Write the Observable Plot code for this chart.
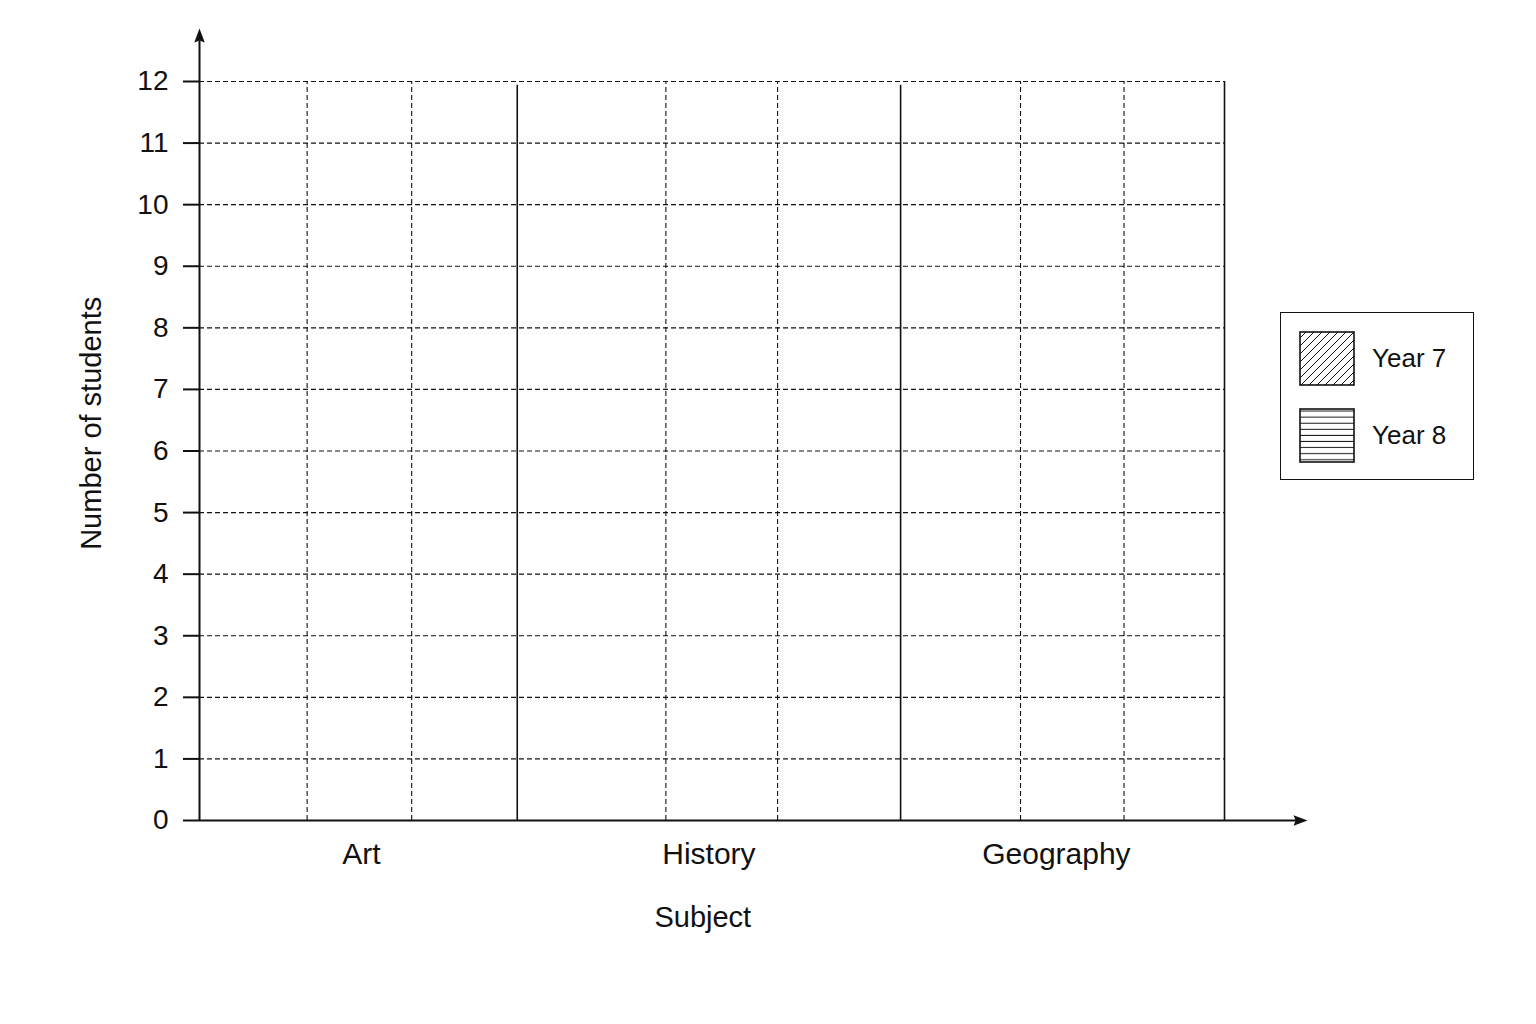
<!DOCTYPE html>
<html>
<head>
<meta charset="utf-8">
<script src="https://cdn.jsdelivr.net/npm/d3@7"></script>
<script src="https://cdn.jsdelivr.net/npm/@observablehq/plot@0.6"></script>
<style>
  html, body { margin: 0; padding: 0; background: #fff; }
  #wrap { position: relative; width: 1536px; height: 1024px; overflow: hidden; font-family: "Liberation Sans", Arial, sans-serif; }
  #legend { position: absolute; left: 1280px; top: 312px; width: 194px; height: 168px; border: 1.5px solid #111; box-sizing: border-box; background: #fff; }
  .item { position: absolute; left: 18px; height: 55px; display: flex; align-items: center; }
  .item svg { display: block; }
  .item span { margin-left: 17px; font-size: 26px; color: #111; }
</style>
</head>
<body>
<div id="wrap"><div id="chart"></div><div id="legend"></div></div>
<script>
// ---- data (blank template: no values entered yet) ----
const subjects = ["Art", "History", "Geography"];
const series = ["Year 7", "Year 8"];
const year7 = [null, null, null];
const year8 = [null, null, null];
const yTicks = [0, 1, 2, 3, 4, 5, 6, 7, 8, 9, 10, 11, 12];
// x positions on a 0–100 scale across the plotting frame
const sectionEdges = [0, 31.0, 68.4, 100];
const dashedLines = [10.5, 20.7, 45.5, 56.4, 80.1, 90.2];
const labelPositions = [15.8, 49.7, 83.6];
const dividerTop = 11.94;
const yAxisEnd = 12.86;
const xAxisEnd = 108.1;

const table = subjects.flatMap((s, i) => [
  {subject: s, series: series[0], value: year7[i]},
  {subject: s, series: series[1], value: year8[i]}
]).filter(d => d.value != null);

// upward arrowhead symbol with tip at the origin
const arrowHead = {
  draw(context, size) {
    const r = Math.sqrt(size / Math.PI);
    context.moveTo(0, 0);
    context.lineTo(-0.75 * r, 2 * r);
    context.lineTo(0, 1.7 * r);
    context.lineTo(0.75 * r, 2 * r);
    context.closePath();
  }
};

const ink = "#111";
const chart = Plot.plot({
  width: 1536,
  height: 1024,
  marginLeft: 199,
  marginRight: 312,
  marginTop: 81,
  marginBottom: 204,
  style: {fontFamily: "Liberation Sans, Arial, sans-serif", color: ink, background: "white", overflow: "visible"},
  x: {type: "linear", domain: [0, 100], axis: null},
  y: {domain: [0, 12], axis: null},
  marks: [
    // horizontal dashed grid
    Plot.ruleY(yTicks.filter(d => d > 0), {x1: 0, x2: 100, stroke: ink, strokeWidth: 1.1, strokeDasharray: "5,3"}),
    // vertical dashed lines
    Plot.ruleX(dashedLines, {y1: 0, y2: 12, stroke: ink, strokeWidth: 1.1, strokeDasharray: "5,3"}),
    // solid section dividers
    Plot.ruleX(sectionEdges.slice(1, -1), {y1: 0, y2: dividerTop, stroke: ink, strokeWidth: 1.6}),
    Plot.ruleX(sectionEdges.slice(-1), {y1: 0, y2: 12, stroke: ink, strokeWidth: 1.6}),
    // bars (none entered)
    Plot.rectY(table, {x1: d => sectionEdges[subjects.indexOf(d.subject)], x2: d => sectionEdges[subjects.indexOf(d.subject) + 1], y: "value", fill: "none", stroke: ink}),
    // y axis ticks and labels
    Plot.axisY(yTicks, {tickSize: 16, tickPadding: 15, fontSize: 28, tickFormat: d3.format("d"), strokeWidth: 2, stroke: ink, fill: ink, label: null}),
    // axis lines
    Plot.ruleX([0], {y1: 0, y2: yAxisEnd - 0.2, stroke: ink, strokeWidth: 2}),
    Plot.ruleY([0], {x1: 0, x2: xAxisEnd - 1, stroke: ink, strokeWidth: 2}),
    // arrowheads
    Plot.dot([0], {x: 0, y: yAxisEnd, symbol: arrowHead, r: 7, fill: ink, stroke: "none"}),
    Plot.dot([0], {x: xAxisEnd, y: 0, symbol: arrowHead, r: 7, fill: ink, stroke: "none", rotate: 90}),
    // subject labels
    Plot.text(subjects, {x: (d, i) => labelPositions[i], frameAnchor: "bottom", dy: 43, fontSize: 30, fill: ink}),
    // axis titles
    Plot.text(["Subject"], {x: 49.1, frameAnchor: "bottom", dy: 106, fontSize: 29, fill: ink}),
    Plot.text(["Number of students"], {y: 6.45, frameAnchor: "left", textAnchor: "middle", dx: -108, rotate: -90, fontSize: 29, fill: ink})
  ]
});
document.getElementById("chart").appendChild(chart);

// legend
const legend = document.getElementById("legend");
const patterns = [
  `<pattern id="p7" patternUnits="userSpaceOnUse" width="8" height="8"><path d="M-2,2 l4,-4 M0,8 l8,-8 M6,10 l4,-4" stroke="${ink}" stroke-width="1"/></pattern>`,
  `<pattern id="p8" patternUnits="userSpaceOnUse" width="8" height="6.1"><path d="M0,3 H8" stroke="${ink}" stroke-width="1"/></pattern>`
];
const ids = ["p7", "p8"];
const tops = [18, 95];
series.forEach((s, i) => {
  const div = document.createElement("div");
  div.className = "item";
  div.style.top = tops[i] + "px";
  div.innerHTML = `<svg width="56" height="55"><defs>${patterns[i]}</defs><rect x="1" y="1" width="54" height="53" fill="url(#${ids[i]})" stroke="${ink}" stroke-width="1.6"/></svg><span>${s}</span>`;
  legend.appendChild(div);
});
</script>
</body>
</html>
